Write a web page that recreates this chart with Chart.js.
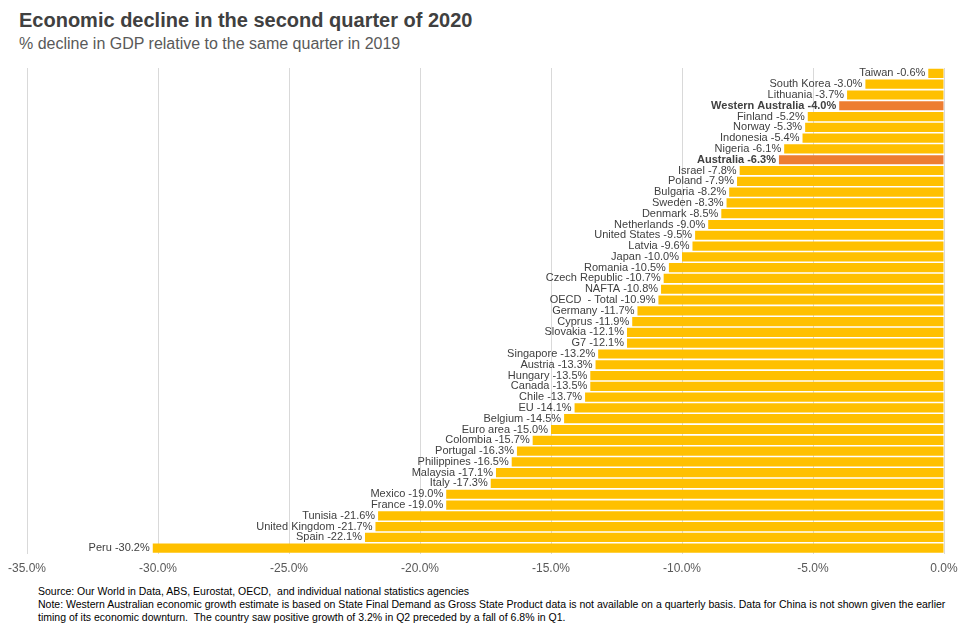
<!DOCTYPE html>
<html>
<head>
<meta charset="utf-8">
<script src="https://cdn.jsdelivr.net/npm/chart.js@4"></script>
<style>
  body { margin: 0; background: #fff; font-family: "Liberation Sans", Arial, sans-serif; }
  #wrap { position: relative; width: 974px; height: 636px; }
  #title { position: absolute; left: 19px; top: 9px; font-size: 20px; font-weight: bold; color: #404040; }
  #sub { position: absolute; left: 19px; top: 35px; font-size: 16px; color: #595959; }
  #chartBox { position: absolute; left: 0; top: 62px; width: 974px; height: 522px; }
  #notes { position: absolute; left: 38px; top: 585px; width: 920px; font-size: 10.5px; color: #000; line-height: 13px; }
</style>
</head>
<body>
<div id="wrap">
  <div id="title">Economic decline in the second quarter of 2020</div>
  <div id="sub">% decline in GDP relative to the same quarter in 2019</div>
  <div id="chartBox"><canvas id="gdpChart"></canvas></div>
  <div id="notes">Source: Our World in Data, ABS, Eurostat, OECD,&nbsp; and individual national statistics agencies<br>
  Note: Western Australian economic growth estimate is based on State Final Demand as Gross State Product data is not available on a quarterly basis. Data for China is not shown given the earlier timing of its economic downturn.&nbsp; The country saw positive growth of 3.2% in Q2 preceded by a fall of 6.8% in Q1.</div>
</div>
<script>
const regions = ['Taiwan', 'South Korea', 'Lithuania', 'Western Australia', 'Finland', 'Norway', 'Indonesia', 'Nigeria',
    'Australia', 'Israel', 'Poland', 'Bulgaria', 'Sweden', 'Denmark', 'Netherlands', 'United States', 'Latvia', 'Japan',
    'Romania', 'Czech Republic', 'NAFTA', 'OECD  - Total', 'Germany', 'Cyprus', 'Slovakia', 'G7', 'Singapore', 'Austria',
    'Hungary', 'Canada', 'Chile', 'EU', 'Belgium', 'Euro area', 'Colombia', 'Portugal', 'Philippines', 'Malaysia', 'Italy',
    'Mexico', 'France', 'Tunisia', 'United Kingdom', 'Spain', 'Peru'];
const declines = [-0.6, -3.0, -3.7, -4.0, -5.2, -5.3, -5.4, -6.1, -6.3, -7.8, -7.9, -8.2, -8.3, -8.5, -9.0, -9.5, -9.6, -10.0,
    -10.5, -10.7, -10.8, -10.9, -11.7, -11.9, -12.1, -12.1, -13.2, -13.3, -13.5, -13.5, -13.7, -14.1, -14.5, -15.0, -15.7,
    -16.3, -16.5, -17.1, -17.3, -19.0, -19.0, -21.6, -21.7, -22.1, -30.2];
const highlighted = ['Western Australia', 'Australia'];
const xTicks = [-35, -30, -25, -20, -15, -10, -5, 0];

// Beschriftung links neben jedem Balken
const barLabels = {
    id: 'barLabels',
    afterDatasetsDraw(chart) {
        const ctx = chart.ctx;
        const meta = chart.getDatasetMeta(0);
        ctx.save();
        ctx.textAlign = 'right';
        ctx.textBaseline = 'middle';
        meta.data.forEach((bar, i) => {
            const bold = highlighted.includes(regions[i]);
            ctx.font = (bold ? 'bold ' : '') + '11px "Liberation Sans", Arial, sans-serif';
            ctx.fillStyle = '#404040';
            ctx.fillText(regions[i] + ' ' + declines[i].toFixed(1) + '%', bar.x - 3, bar.y);
        });
        ctx.restore();
    }
};

new Chart(document.getElementById('gdpChart'), {
    type: 'bar',
    data: {
        labels: regions,
        datasets: [{
            data: declines,
            backgroundColor: regions.map(r => highlighted.includes(r) ? '#ED7D31' : '#FFC000'),
            categoryPercentage: 0.85,
            barPercentage: 1.0,
        }],
    },
    options: {
        indexAxis: 'y',
        responsive: true,
        maintainAspectRatio: false,
        animation: false,
        layout: { padding: { left: 15, right: 30, top: 6, bottom: 0 } },
        plugins: { legend: { display: false }, tooltip: { enabled: false } },
        scales: {
            x: {
                min: -35,
                max: 0,
                afterBuildTicks: axis => { axis.ticks = xTicks.map(v => ({ value: v })); },
                ticks: {
                    callback: v => v.toFixed(1) + '%',
                    color: '#595959',
                    font: { size: 12, family: '"Liberation Sans", Arial, sans-serif' },
                    padding: 8,
                },
                grid: { color: '#d9d9d9', drawTicks: false },
                border: { display: false },
            },
            y: { display: false },
        },
    },
    plugins: [barLabels],
});
</script>
</body>
</html>
